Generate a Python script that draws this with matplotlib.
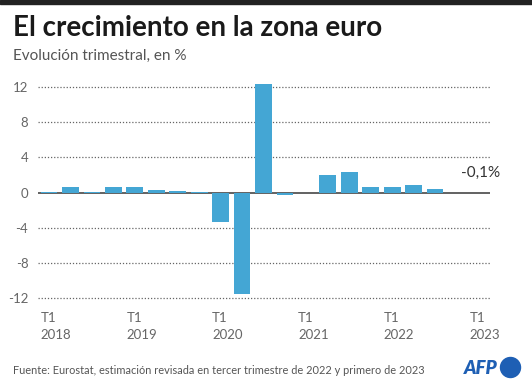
import matplotlib
matplotlib.use("Agg")
import matplotlib.pyplot as plt
from matplotlib.patches import Ellipse, Rectangle

quarters = ["2018T1", "2018T2", "2018T3", "2018T4",
            "2019T1", "2019T2", "2019T3", "2019T4",
            "2020T1", "2020T2", "2020T3", "2020T4",
            "2021T1", "2021T2", "2021T3", "2021T4",
            "2022T1", "2022T2", "2022T3", "2022T4",
            "2023T1"]
values = [0.1, 0.6, 0.1, 0.6,
          0.6, 0.3, 0.2, 0.1,
          -3.4, -11.5, 12.3, -0.3,
          -0.1, 2.0, 2.3, 0.6,
          0.6, 0.9, 0.4, -0.1,
          -0.1]
yticks = [-12, -8, -4, 0, 4, 8, 12]
xtick_labels = ["T1\n2018", "T1\n2019", "T1\n2020", "T1\n2021", "T1\n2022", "T1\n2023"]
xtick_idx = [0, 4, 8, 12, 16, 20]
last_label = "-0,1%"

W, H = 532, 388
fig = plt.figure(figsize=(W / 100, H / 100), dpi=100)
plt.rcParams['font.family'] = ['Lato', 'DejaVu Sans']

# top band
fig.add_artist(Rectangle((0, 1 - 4 / H), 1, 4 / H, transform=fig.transFigure,
                         color="#222222", zorder=10))

fig.text(13 / W, 1 - 28 / H, "El crecimiento en la zona euro", fontsize=20,
         fontweight="bold", color="#1a1a1a", va="center", ha="left")
fig.text(13 / W, 1 - 56 / H, "Evolución trimestral, en %", fontsize=11,
         color="#555555", va="center", ha="left")

ax = fig.add_axes([38 / W, (H - 302.7) / H, 452 / W, 220.4 / H])
x = list(range(len(values)))
ax.bar(x, values, width=0.78, color="#44a6d4", zorder=3)
ax.set_xlim(-0.513, 20.56)
ax.set_ylim(-12.5, 12.5)
for v in yticks:
    if v == 0:
        ax.axhline(0, color="#555555", lw=1.3, zorder=2)
    else:
        ax.axhline(v, color="#666666", lw=0.9, ls=(0, (1, 1.5)), zorder=1)
ax.set_yticks(yticks)
ax.set_yticklabels([str(v) for v in yticks])
ax.tick_params(axis="y", length=0, pad=7, labelsize=9.5, labelcolor="#666666")
ax.set_xticks([i - 0.39 for i in xtick_idx])
ax.set_xticklabels(xtick_labels, ha="left", linespacing=1.45)
ax.tick_params(axis="x", length=0, pad=7, labelsize=9.5, labelcolor="#666666")
for s in ax.spines.values():
    s.set_visible(False)
ax.patch.set_visible(False)

ax.annotate(last_label, xy=(x[-1], 0), xytext=(2, 14), textcoords="offset points",
            ha="center", va="center", fontsize=11, color="#333333")

fig.text(13 / W, 1 - 370 / H,
         "Fuente: Eurostat, estimación revisada en tercer trimestre de 2022 y primero de 2023",
         fontsize=7.9, color="#555555", va="center", ha="left")
fig.text(498 / W, 1 - 368 / H, "AFP", fontsize=13.5, fontweight="heavy", style="italic",
         color="#1e5fb4", va="center", ha="right")
fig.add_artist(Ellipse((510.5 / W, 1 - 367.5 / H), 20 / W, 20 / H,
                       transform=fig.transFigure, color="#1e5fb4"))

fig.savefig("out.png", dpi=100, facecolor="white")
